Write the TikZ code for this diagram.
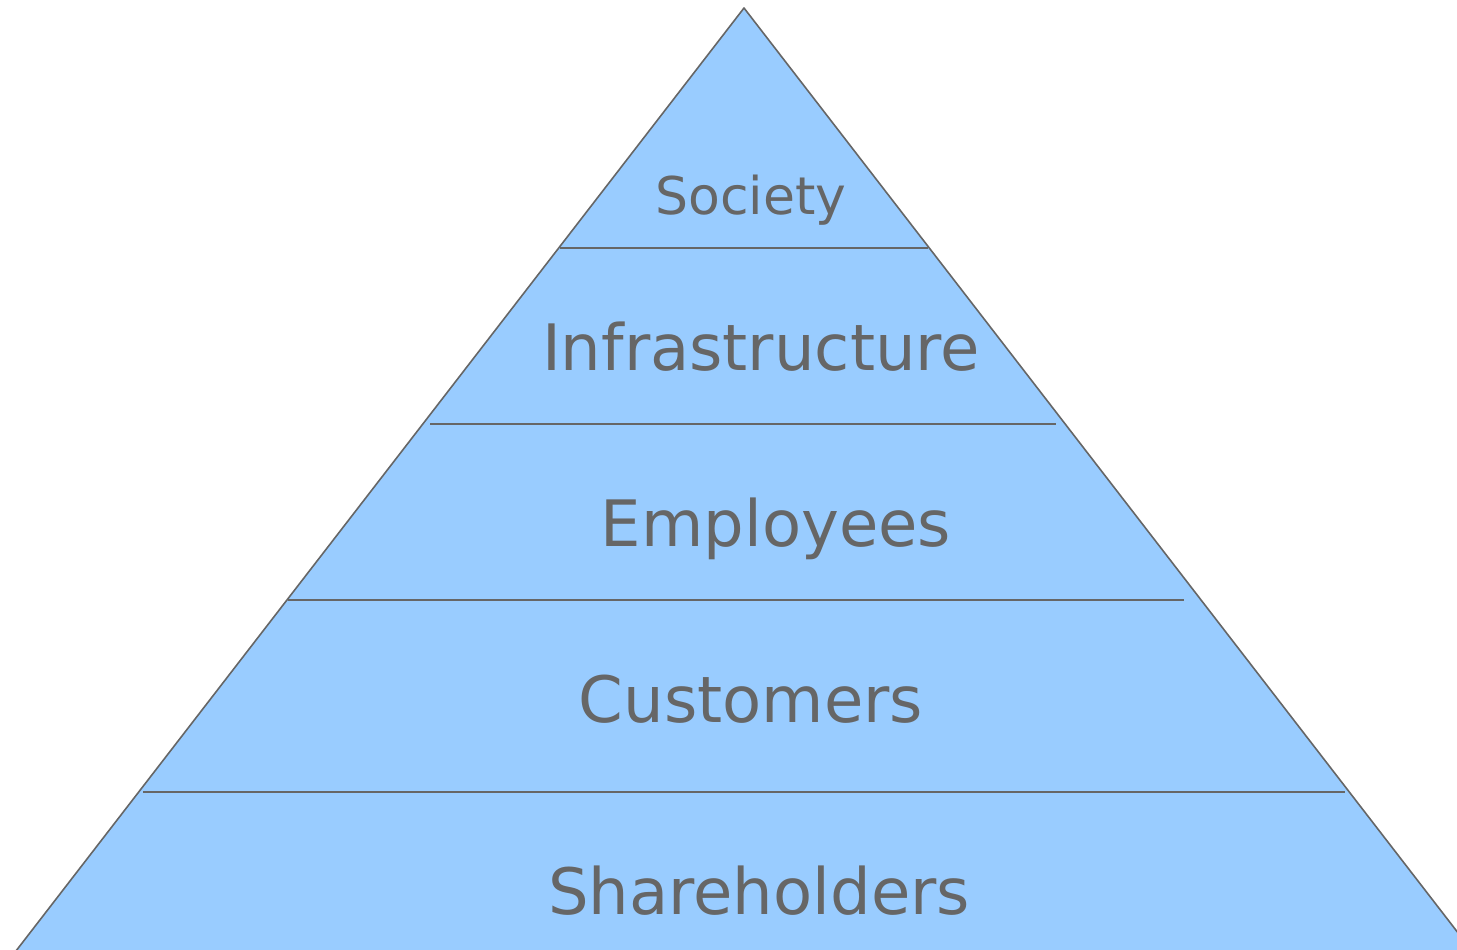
\documentclass[tikz,border=0pt]{standalone}
\usepackage{fontspec}
\setmainfont{DejaVu Sans}
\definecolor{tierfill}{HTML}{99CCFF}
\definecolor{tierline}{HTML}{666666}
\definecolor{tiertext}{HTML}{666666}
\begin{document}
\begin{tikzpicture}[x=1pt,y=-1pt,
  tierlabel/.style={anchor=base, text=tiertext, inner sep=0pt},
  divider/.style={draw=tierline, line width=1.6pt}]
\useasboundingbox (0,0) rectangle (1457,950);
\clip (0,0) rectangle (1457,950);
% pyramid body
\coordinate (apex) at (744,8);
\coordinate (baseL) at (9,960);
\coordinate (baseR) at (1479,960);
\filldraw[fill=tierfill, draw=tierline, line width=1.6pt, line join=round] (apex) -- (baseL) -- (baseR) -- cycle;
% tier dividers
\coordinate (d1l) at (560,248);  \coordinate (d1r) at (928,248);
\coordinate (d2l) at (430,424);  \coordinate (d2r) at (1056,424);
\coordinate (d3l) at (288,600);  \coordinate (d3r) at (1184,600);
\coordinate (d4l) at (143,792);  \coordinate (d4r) at (1345,792);
\draw[divider] (d1l) -- (d1r);
\draw[divider] (d2l) -- (d2r);
\draw[divider] (d3l) -- (d3r);
\draw[divider] (d4l) -- (d4r);
% tier labels
\node[tierlabel, font=\fontsize{52}{60}\selectfont] (society) at (751,214) {Society};
\node[tierlabel, font=\fontsize{64}{72}\selectfont] (infra) at (761,370) {Infrastructure};
\node[tierlabel, font=\fontsize{64}{72}\selectfont] (employees) at (776,546) {Employees};
\node[tierlabel, font=\fontsize{64}{72}\selectfont] (customers) at (751,722) {Customers};
\node[tierlabel, font=\fontsize{64}{72}\selectfont] (shareholders) at (759,914) {Shareholders};
\end{tikzpicture}
\end{document}
